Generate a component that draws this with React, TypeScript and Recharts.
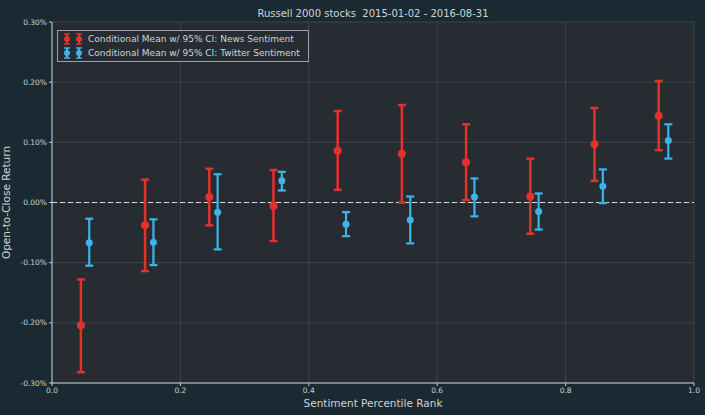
import React from "react";
import {
  ScatterChart,
  Scatter,
  XAxis,
  YAxis,
  CartesianGrid,
  ErrorBar,
  ReferenceLine,
} from "recharts";

// percentile-rank bin centres (news dots sit a bit left of twitter dots)
const newsX = [0.045, 0.145, 0.245, 0.345, 0.445, 0.545, 0.645, 0.745, 0.845, 0.945];
const twitterX = [0.058, 0.158, 0.258, 0.358, 0.458, 0.558, 0.658, 0.758, 0.858, 0.96];

// returns in %
const newsMean = [-0.204, -0.038, 0.009, -0.006, 0.086, 0.081, 0.067, 0.01, 0.097, 0.144];
const newsLow = [-0.282, -0.114, -0.038, -0.064, 0.021, 0.0, 0.004, -0.052, 0.036, 0.087];
const newsHigh = [-0.128, 0.038, 0.056, 0.054, 0.152, 0.162, 0.13, 0.073, 0.157, 0.202];

const twitterMean = [-0.067, -0.066, -0.016, 0.036, -0.036, -0.029, 0.009, -0.015, 0.027, 0.103];
const twitterLow = [-0.105, -0.104, -0.078, 0.02, -0.056, -0.068, -0.023, -0.045, -0.001, 0.073];
const twitterHigh = [-0.027, -0.028, 0.047, 0.051, -0.016, 0.01, 0.04, 0.015, 0.055, 0.13];

const xTicks = [0, 0.2, 0.4, 0.6, 0.8, 1.0];
const yTicks = [-0.3, -0.2, -0.1, 0, 0.1, 0.2, 0.3];

const RED = "#e5312b";
const BLUE = "#3db4ea";
const AXIS = "#b4d2e4";
const GRID = "#3c444b";
const TEXT = "#cfd3d6";

function build(xs: number[], mean: number[], low: number[], high: number[]) {
  return xs.map((x, i) => ({
    x,
    y: mean[i],
    err: [mean[i] - low[i], high[i] - mean[i]],
  }));
}

const newsData = build(newsX, newsMean, newsLow, newsHigh);
const twitterData = build(twitterX, twitterMean, twitterLow, twitterHigh);

function dot(color: string, r: number) {
  return (props: any) => <circle cx={props.cx} cy={props.cy} r={r} fill={color} />;
}

function LegendIcon({ color }: { color: string }) {
  const one = (x: number) => (
    <g key={x}>
      <line x1={x} y1={1} x2={x} y2={11} stroke={color} strokeWidth={2} />
      <line x1={x - 3} y1={1} x2={x + 3} y2={1} stroke={color} strokeWidth={1.5} />
      <line x1={x - 3} y1={11} x2={x + 3} y2={11} stroke={color} strokeWidth={1.5} />
      <circle cx={x} cy={6} r={3} fill={color} />
    </g>
  );
  return (
    <svg width={22} height={12} style={{ marginRight: 3 }}>
      {one(4)}
      {one(16)}
    </svg>
  );
}

export default function App() {
  return (
    <div
      style={{
        position: "relative",
        width: 705,
        height: 415,
        background: "#1b2a32",
        fontFamily: "'DejaVu Sans', sans-serif",
      }}
    >
      <style>{"body{margin:0}"}</style>
      <div
        style={{
          position: "absolute",
          left: 52,
          width: 642,
          top: 8,
          textAlign: "center",
          fontSize: 10,
          color: TEXT,
        }}
      >
        Russell 2000 stocks&nbsp;&nbsp;2015-01-02 - 2016-08-31
      </div>
      <ScatterChart
        width={705}
        height={415}
        margin={{ top: 22, right: 11, bottom: 0, left: 0 }}
      >
        <CartesianGrid fill="#262c31" stroke={GRID} strokeWidth={1} />
        <XAxis
          type="number"
          dataKey="x"
          domain={[0, 1]}
          ticks={xTicks}
          tickFormatter={(v: number) => v.toFixed(1)}
          height={32}
          stroke={AXIS}
          tickSize={3}
          tick={{ fontSize: 7.5, fill: TEXT }}
          label={{
            value: "Sentiment Percentile Rank",
            position: "insideBottom",
            offset: 8,
            fill: TEXT,
            fontSize: 10.5,
          }}
        />
        <YAxis
          type="number"
          dataKey="y"
          domain={[-0.3, 0.3]}
          ticks={yTicks}
          tickFormatter={(v: number) => v.toFixed(2) + "%"}
          width={52}
          stroke={AXIS}
          tickSize={3}
          tick={{ fontSize: 7.5, fill: TEXT }}
          label={{
            value: "Open-to-Close Return",
            angle: -90,
            position: "insideLeft",
            offset: 6,
            fill: TEXT,
            fontSize: 10.5,
            style: { textAnchor: "middle" },
          }}
        />
        <ReferenceLine y={0} stroke="#d6d9dc" strokeDasharray="5 3" strokeWidth={1.2} />
        <Scatter
          name="Conditional Mean w/ 95% CI: News Sentiment"
          data={newsData}
          shape={dot(RED, 4)}
          isAnimationActive={false}
        >
          <ErrorBar dataKey="err" direction="y" width={4} stroke={RED} strokeWidth={2.5} isAnimationActive={false} />
        </Scatter>
        <Scatter
          name="Conditional Mean w/ 95% CI: Twitter Sentiment"
          data={twitterData}
          shape={dot(BLUE, 3.5)}
          isAnimationActive={false}
        >
          <ErrorBar dataKey="err" direction="y" width={4} stroke={BLUE} strokeWidth={2.2} isAnimationActive={false} />
        </Scatter>
      </ScatterChart>
      <div
        style={{
          position: "absolute",
          left: 57,
          top: 30,
          padding: "1px 8px 1px 5px",
          border: "1px solid #9aa3a9",
          background: "#262c31",
          fontSize: 9,
          color: TEXT,
          lineHeight: "14px",
          whiteSpace: "nowrap",
        }}
      >
        <div style={{ display: "flex", alignItems: "center" }}>
          <LegendIcon color={RED} />
          Conditional Mean w/ 95% CI: News Sentiment
        </div>
        <div style={{ display: "flex", alignItems: "center" }}>
          <LegendIcon color={BLUE} />
          Conditional Mean w/ 95% CI: Twitter Sentiment
        </div>
      </div>
    </div>
  );
}
